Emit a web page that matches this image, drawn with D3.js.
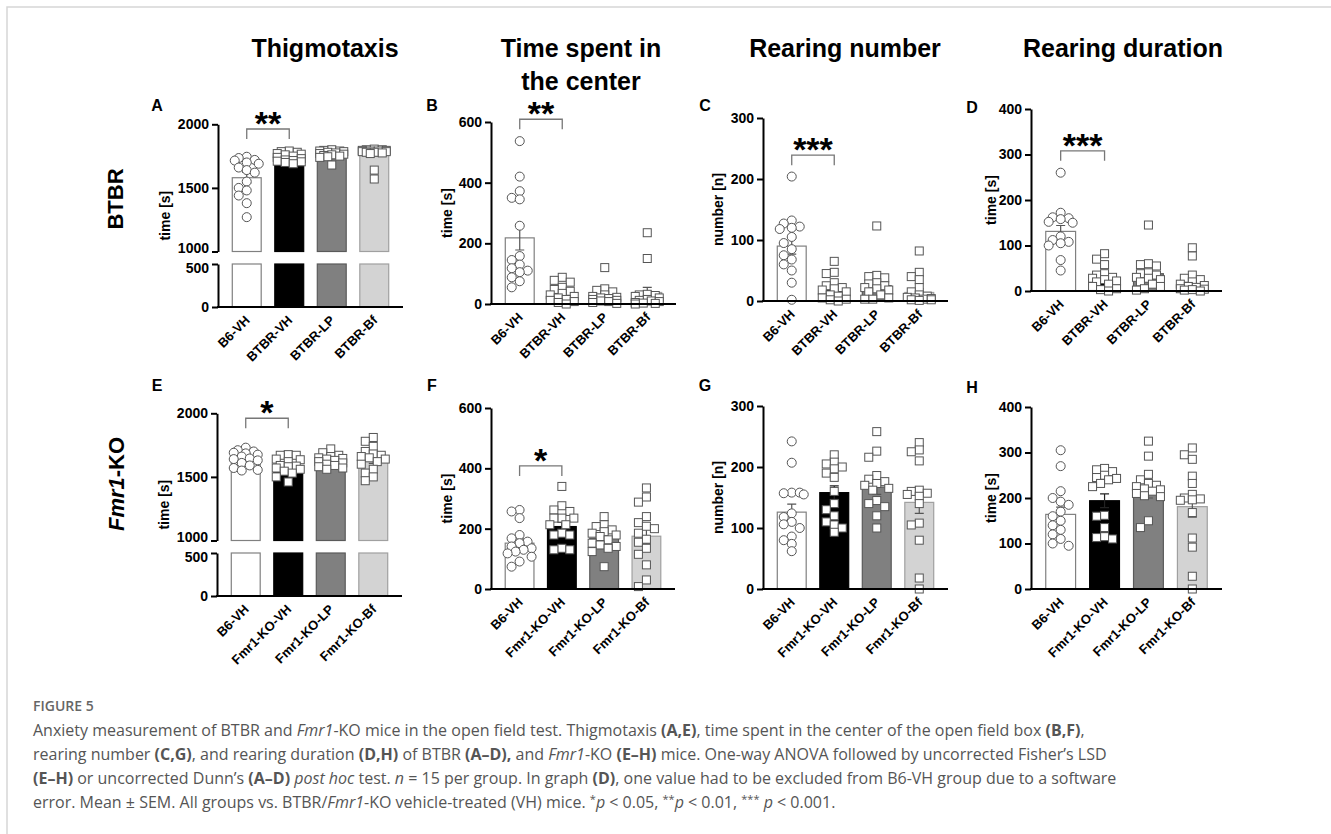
<!DOCTYPE html>
<html>
<head>
<meta charset="utf-8">
<script src="https://cdn.jsdelivr.net/npm/d3@7"></script>
<style>
  body { margin: 0; background: #fff; }
  svg text { font-family: "Liberation Sans", Arial, sans-serif; }
  svg text.cap { font-family: "Open Sans", sans-serif; }
</style>
</head>
<body>
<svg id="fig" width="1331" height="834"></svg>
<script>
// groups
const groupsBTBR = ["B6-VH", "BTBR-VH", "BTBR-LP", "BTBR-Bf"];
const groupsFmr1 = ["B6-VH", "Fmr1-KO-VH", "Fmr1-KO-LP", "Fmr1-KO-Bf"];

const headerLines = [["Thigmotaxis"], ["Time spent in", "the center"], ["Rearing number"], ["Rearing duration"]];
const yTitles = ["time [s]", "time [s]", "number [n]", "time [s]"];
const yTicks = [[0, 500, 1000, 1500, 2000], [0, 200, 400, 600], [0, 100, 200, 300], [0, 100, 200, 300, 400]];
const yMax = [2000, 600, 300, 400];

// A - thigmotaxis BTBR
const meanA = [1580, 1720, 1760, 1768];
const semA = [42, 10, 9, 16];
const ptsA = [
  [1745, 1735, 1720, 1715, 1700, 1690, 1660, 1640, 1620, 1550, 1500, 1480, 1440, 1380, 1270],
  [1790, 1785, 1780, 1770, 1765, 1760, 1750, 1740, 1730, 1720, 1715, 1710, 1705, 1700, 1690],
  [1800, 1795, 1790, 1790, 1785, 1780, 1775, 1770, 1765, 1760, 1755, 1750, 1745, 1740, 1680],
  [1805, 1800, 1800, 1795, 1795, 1790, 1790, 1785, 1785, 1780, 1780, 1775, 1770, 1640, 1570]
];
// B - time in center BTBR
const meanB = [218, 35, 27, 38];
const semB = [40, 8, 8, 17];
const ptsB = [
  [537, 420, 372, 350, 345, 258, 158, 145, 130, 118, 110, 105, 88, 75, 55],
  [88, 78, 72, 55, 48, 42, 35, 30, 25, 20, 15, 12, 8, 5, 0],
  [120, 50, 45, 40, 30, 25, 22, 20, 18, 15, 12, 10, 8, 5, 2],
  [235, 150, 32, 30, 28, 25, 20, 15, 12, 10, 8, 5, 3, 2, 0]
];
// C - rearing number BTBR
const meanC = [90, 20, 25, 14];
const semC = [13, 5, 8, 6];
const ptsC = [
  [204, 132, 127, 122, 120, 118, 105, 95, 85, 75, 68, 60, 50, 30, 2],
  [65, 47, 45, 30, 25, 22, 20, 18, 15, 10, 8, 5, 3, 2, 0],
  [123, 42, 40, 38, 30, 28, 25, 22, 20, 18, 15, 10, 5, 3, 3],
  [82, 47, 40, 35, 22, 15, 10, 8, 6, 5, 4, 3, 2, 2, 1]
];
// D - rearing duration BTBR (one B6-VH value excluded)
const meanD = [131, 25, 38, 20];
const semD = [13, 6, 9, 7];
const ptsD = [
  [260, 172, 162, 160, 158, 152, 150, 120, 112, 108, 105, 100, 68, 45],
  [82, 70, 58, 38, 35, 30, 28, 25, 22, 20, 15, 10, 5, 3, 0],
  [145, 60, 58, 55, 40, 38, 35, 30, 28, 25, 20, 15, 10, 5, 2],
  [95, 77, 35, 28, 25, 20, 15, 12, 10, 8, 5, 4, 3, 2, 0]
];
// E - thigmotaxis Fmr1
const meanE = [1645, 1588, 1625, 1630];
const semE = [14, 17, 11, 24];
const ptsE = [
  [1730, 1710, 1700, 1690, 1685, 1675, 1660, 1645, 1640, 1630, 1610, 1590, 1570, 1555, 1550],
  [1675, 1670, 1670, 1640, 1635, 1620, 1590, 1585, 1580, 1570, 1560, 1545, 1530, 1500, 1460],
  [1720, 1690, 1670, 1660, 1650, 1645, 1640, 1630, 1620, 1610, 1600, 1590, 1580, 1570, 1560],
  [1810, 1780, 1740, 1700, 1680, 1670, 1660, 1650, 1640, 1620, 1600, 1560, 1530, 1500, 1470]
];
// F - time in center Fmr1
const meanF = [152, 207, 168, 175];
const semF = [14, 15, 11, 25];
const ptsF = [
  [262, 257, 235, 179, 168, 157, 152, 141, 135, 130, 124, 118, 107, 91, 74],
  [340, 276, 262, 257, 235, 235, 235, 213, 213, 185, 179, 179, 135, 130, 130],
  [240, 213, 207, 196, 190, 185, 179, 174, 163, 152, 146, 141, 135, 124, 74],
  [335, 305, 288, 240, 220, 208, 200, 185, 165, 155, 135, 115, 80, 30, 8]
];
// G - rearing number Fmr1
const meanG = [126, 158, 167, 142];
const semG = [13, 11, 12, 18];
const ptsG = [
  [242, 207, 158, 157, 158, 155, 124, 118, 110, 106, 100, 86, 80, 74, 62],
  [220, 208, 205, 200, 197, 190, 183, 160, 140, 130, 120, 110, 105, 100, 93],
  [258, 226, 216, 186, 180, 176, 173, 170, 165, 162, 145, 140, 135, 120, 100],
  [240, 228, 225, 210, 162, 160, 157, 155, 152, 140, 108, 105, 80, 18, 0]
];
// H - rearing duration Fmr1
const meanH = [164, 194, 212, 181];
const semH = [16, 15, 12, 23];
const ptsH = [
  [305, 270, 215, 200, 192, 185, 170, 160, 150, 140, 130, 120, 110, 100, 95],
  [265, 262, 258, 250, 245, 243, 240, 232, 225, 162, 160, 135, 115, 113, 110],
  [325, 292, 252, 240, 232, 228, 225, 220, 218, 215, 210, 205, 203, 150, 135],
  [310, 295, 285, 248, 232, 208, 200, 198, 196, 195, 168, 112, 92, 28, 0]
];

// significance (B6-VH vs vehicle)
const sigPanels = ["A", "B", "C", "D", "E", "F"];
const sigStars = ["**", "**", "***", "***", "*", "*"];
const sigLevels = [1963, 609, 239, 308, 1961, 408];

const fills = ["#ffffff", "#000000", "#808080", "#d3d3d3"];
const strokes = ["#808080", "#000000", "#5a5a5a", "#a0a0a0"];

const svg = d3.select("#fig");

// light frame
svg.append("rect").attr("x", 7).attr("y", 7).attr("width", 1400).attr("height", 900)
  .attr("fill", "none").attr("stroke", "#d6d6d6").attr("stroke-width", 1.5);

// column headers
const headerX = [325, 581, 845, 1123];
headerLines.forEach((lines, i) => {
  lines.forEach((t, j) => {
    svg.append("text").attr("x", headerX[i]).attr("y", 57 + j * 33)
      .attr("text-anchor", "middle").attr("font-size", 25).attr("font-weight", "bold")
      .text(t);
  });
});

// row labels
svg.append("text").attr("transform", "translate(115,199) rotate(-90)")
  .attr("text-anchor", "middle").attr("dy", "0.35em")
  .attr("font-size", 22).attr("font-weight", "bold").text("BTBR");
const rl = svg.append("text").attr("transform", "translate(116,484) rotate(-90)")
  .attr("text-anchor", "middle").attr("dy", "0.35em")
  .attr("font-size", 22).attr("font-weight", "bold");
rl.append("tspan").attr("font-style", "italic").text("Fmr1");
rl.append("tspan").text("-KO");

const frames = {
  A: { x0: 218, x1: 403, yb: 307, yt: 124.3, tdx: 53, lab: [157, 105] },
  B: { x0: 491, x1: 676, yb: 304, yt: 122, tdx: 44, lab: [432, 105] },
  C: { x0: 763, x1: 948, yb: 301, yt: 118, tdx: 45, lab: [705, 105] },
  D: { x0: 1031, x1: 1222, yb: 291, yt: 109, tdx: 40, lab: [972, 107] },
  E: { x0: 217, x1: 402, yb: 596, yt: 413.3, tdx: 53, lab: [157, 385] },
  F: { x0: 491, x1: 675, yb: 589, yt: 408, tdx: 44, lab: [432, 385] },
  G: { x0: 763, x1: 948, yb: 589, yt: 406, tdx: 45, lab: [705, 385] },
  H: { x0: 1031, x1: 1222, yb: 589, yt: 407, tdx: 40, lab: [972, 387] }
};

const panels = [
  { id: "A", col: 0, groups: groupsBTBR, mean: meanA, sem: semA, pts: ptsA },
  { id: "B", col: 1, groups: groupsBTBR, mean: meanB, sem: semB, pts: ptsB },
  { id: "C", col: 2, groups: groupsBTBR, mean: meanC, sem: semC, pts: ptsC },
  { id: "D", col: 3, groups: groupsBTBR, mean: meanD, sem: semD, pts: ptsD },
  { id: "E", col: 0, groups: groupsFmr1, mean: meanE, sem: semE, pts: ptsE },
  { id: "F", col: 1, groups: groupsFmr1, mean: meanF, sem: semF, pts: ptsF },
  { id: "G", col: 2, groups: groupsFmr1, mean: meanG, sem: semG, pts: ptsG },
  { id: "H", col: 3, groups: groupsFmr1, mean: meanH, sem: semH, pts: ptsH }
];

// simple beeswarm so points at similar heights spread sideways
function swarm(vals, yf, size, maxOff) {
  const placed = [];
  const step = size * 0.5;
  const cands = [0];
  for (let k = 1; k * step <= maxOff; k++) cands.push(-k * step, k * step);
  const lim = size * 0.9;
  return vals.map(v => {
    const yy = yf(v);
    let best = cands[0], bestScore = Infinity;
    for (const dx of cands) {
      let score = 0;
      placed.forEach(p => {
        const ox = lim - Math.abs(p.x - dx), oy = lim - Math.abs(p.y - yy);
        if (ox > 0 && oy > 0) score += ox * oy;
      });
      if (score < bestScore - 0.01) { bestScore = score; best = dx; }
      if (score === 0) break;
    }
    placed.push({ x: best, y: yy });
    return { v: v, dx: best, y: yy };
  });
}

function styleAxis(sel) {
  sel.select(".domain").attr("stroke-width", 2).attr("stroke", "#000");
  sel.selectAll(".tick line").attr("stroke-width", 2).attr("stroke", "#000");
  sel.selectAll(".tick text").attr("font-size", 14).attr("font-weight", "bold")
    .attr("fill", "#000").attr("font-family", "Liberation Sans, Arial, sans-serif");
}

const fmt = d3.format("d");

panels.forEach(p => {
  const f = frames[p.id];
  const g = svg.append("g");
  const broken = p.col === 0;

  const x = d3.scaleBand().domain(p.groups).range([f.x0, f.x1])
    .paddingInner(0.32).paddingOuter(0.336);

  let y, yUp, yLo;
  if (broken) {
    yUp = d3.scaleLinear().domain([1000, 2000]).range([f.yb - 55.5, f.yt]);
    yLo = d3.scaleLinear().domain([0, 500]).range([f.yb, f.yb - 43]);
    y = v => (v >= 1000 ? yUp(v) : yLo(Math.min(v, 500)));
  } else {
    y = d3.scaleLinear().domain([0, yMax[p.col]]).range([f.yb, f.yt]);
  }

  // bars
  p.groups.forEach((grp, i) => {
    const bx = x(grp), bw = x.bandwidth();
    const segs = broken
      ? [[yLo(500), f.yb], [y(p.mean[i]), yUp(1000)]]
      : [[y(p.mean[i]), f.yb]];
    segs.forEach(s => {
      g.append("rect").attr("x", bx).attr("y", s[0]).attr("width", bw).attr("height", s[1] - s[0])
        .attr("fill", fills[i]).attr("stroke", strokes[i]).attr("stroke-width", 1.2);
    });
  });

  // error bars (mean ± SEM)
  p.groups.forEach((grp, i) => {
    const cx = x(grp) + x.bandwidth() / 2;
    const hi = y(p.mean[i] + p.sem[i]), lo = y(Math.max(0, p.mean[i] - p.sem[i]));
    const col = i === 1 ? "#222" : "#555";
    g.append("path")
      .attr("d", `M${cx},${lo}V${hi}M${cx - 4.5},${hi}H${cx + 4.5}M${cx - 4.5},${lo}H${cx + 4.5}`)
      .attr("stroke", col).attr("stroke-width", 1.2).attr("fill", "none");
  });

  // individual animals
  p.groups.forEach((grp, i) => {
    const cx = x(grp) + x.bandwidth() / 2;
    const size = 8;
    const pos = swarm(p.pts[i], y, size, x.bandwidth() / 2);
    if (i === 0) {
      g.selectAll(null).data(pos).join("circle")
        .attr("cx", d => cx + d.dx).attr("cy", d => d.y).attr("r", 4.5)
        .attr("fill", "#fff").attr("stroke", "#555").attr("stroke-width", 1);
    } else {
      g.selectAll(null).data(pos).join("rect")
        .attr("x", d => cx + d.dx - size / 2).attr("y", d => d.y - size / 2)
        .attr("width", size).attr("height", size)
        .attr("fill", "#fff").attr("stroke", "#555").attr("stroke-width", 1);
    }
  });

  // y axis
  if (broken) {
    g.append("g").attr("transform", `translate(${f.x0},0)`)
      .call(d3.axisLeft(yUp).tickValues([1000, 1500, 2000]).tickFormat(fmt).tickSize(6).tickSizeOuter(0).tickPadding(3))
      .call(styleAxis)
      .call(a => a.selectAll(".tick text").filter(d => d === 1000).attr("dy", "0.05em"));
    g.append("g").attr("transform", `translate(${f.x0},0)`)
      .call(d3.axisLeft(yLo).tickValues([0, 500]).tickFormat(fmt).tickSize(6).tickSizeOuter(0).tickPadding(3))
      .call(styleAxis)
      .call(a => a.selectAll(".tick text").filter(d => d === 500).attr("dy", "0.62em"));
  } else {
    g.append("g").attr("transform", `translate(${f.x0},0)`)
      .call(d3.axisLeft(y).tickValues(yTicks[p.col]).tickFormat(fmt).tickSize(6).tickSizeOuter(0).tickPadding(3))
      .call(styleAxis);
  }

  // x axis line and rotated group names
  g.append("line").attr("x1", f.x0 - 1).attr("x2", f.x1).attr("y1", f.yb).attr("y2", f.yb)
    .attr("stroke", "#000").attr("stroke-width", 2);
  p.groups.forEach(grp => {
    const cx = x(grp) + x.bandwidth() / 2;
    g.append("text").attr("transform", `translate(${cx + 4},${f.yb + 14}) rotate(-45)`)
      .attr("text-anchor", "end").attr("font-size", 13).attr("font-weight", "bold").text(grp);
  });

  // y title
  g.append("text").attr("transform", `translate(${f.x0 - f.tdx},${(f.yb + f.yt) / 2}) rotate(-90)`)
    .attr("text-anchor", "middle").attr("dy", "0.35em")
    .attr("font-size", 14).attr("font-weight", "bold").text(yTitles[p.col]);

  // panel letter
  g.append("text").attr("x", f.lab[0]).attr("y", f.lab[1]).attr("dy", "0.36em")
    .attr("text-anchor", "middle").attr("font-size", 16).attr("font-weight", "bold").text(p.id);

  // significance bracket
  const si = sigPanels.indexOf(p.id);
  if (si >= 0) {
    const xa = x(p.groups[0]) + x.bandwidth() / 2, xb = x(p.groups[1]) + x.bandwidth() / 2;
    const ly = y(sigLevels[si]);
    g.append("path").attr("d", `M${xa},${ly + 10}V${ly}H${xb}V${ly + 10}`)
      .attr("fill", "none").attr("stroke", "#777").attr("stroke-width", 1.3);
    g.append("text").attr("x", (xa + xb) / 2).attr("y", ly + 6)
      .attr("text-anchor", "middle").attr("font-size", 34).attr("font-weight", "bold")
      .text(sigStars[si]);
  }
});

// caption
const captionLines = [
  [["Anxiety measurement of BTBR and ", ""], ["Fmr1", "i"], ["-KO mice in the open field test. Thigmotaxis ", ""], ["(A,E)", "b"], [", time spent in the center of the open field box ", ""], ["(B,F)", "b"], [",", ""]],
  [["rearing number ", ""], ["(C,G)", "b"], [", and rearing duration ", ""], ["(D,H)", "b"], [" of BTBR ", ""], ["(A\u2013D),", "b"], [" and ", ""], ["Fmr1", "i"], ["-KO ", ""], ["(E\u2013H)", "b"], [" mice. One-way ANOVA followed by uncorrected Fisher\u2019s LSD", ""]],
  [["(E\u2013H)", "b"], [" or uncorrected Dunn\u2019s ", ""], ["(A\u2013D)", "b"], [" ", ""], ["post hoc", "i"], [" test. ", ""], ["n", "i"], [" = 15 per group. In graph ", ""], ["(D)", "b"], [", one value had to be excluded from B6-VH group due to a software", ""]],
  [["error. Mean \u00b1 SEM. All groups vs. BTBR/", ""], ["Fmr1", "i"], ["-KO vehicle-treated (VH) mice. ", ""], ["*", "s"], ["p", "i"], [" < 0.05, ", ""], ["**", "s"], ["p", "i"], [" < 0.01, ", ""], ["***", "s"], [" ", ""], ["p", "i"], [" < 0.001.", ""]]
];

svg.append("text").attr("class", "cap").attr("x", 33).attr("y", 711)
  .attr("font-size", 14).attr("font-weight", 600).attr("fill", "#666").text("FIGURE 5");

captionLines.forEach((segs, li) => {
  const t = svg.append("text").attr("class", "cap").attr("x", 33).attr("y", 736 + li * 24)
    .attr("font-size", 16).attr("fill", "#555");
  let raised = false;
  segs.forEach(s => {
    const ts = t.append("tspan").text(s[0]);
    if (s[1] === "b") ts.attr("font-weight", "bold");
    if (s[1] === "i") ts.attr("font-style", "italic");
    if (s[1] === "s") { ts.attr("font-size", 11).attr("dy", -5); raised = true; }
    else if (raised) { ts.attr("dy", 5); raised = false; }
  });
});
</script>
</body>
</html>
